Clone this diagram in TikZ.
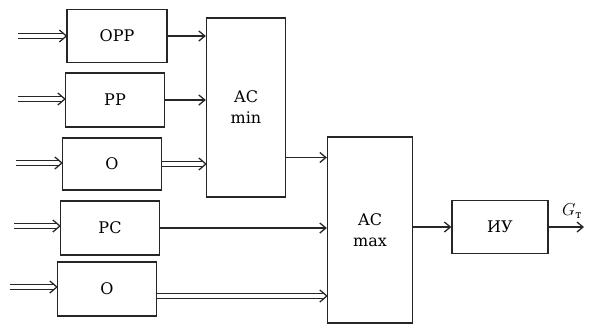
\documentclass[tikz,border=0pt]{standalone}
\usepackage{fontspec}
\setmainfont{DejaVu Serif}
\usetikzlibrary{arrows.meta}
\newcommand{\dblarrow}[2]{%
  \draw[ln] ([yshift=2.2pt]#1) -- ([xshift=-3pt,yshift=2.2pt]#2);
  \draw[ln] ([yshift=-2.2pt]#1) -- ([xshift=-3pt,yshift=-2.2pt]#2);
  \draw[ln, line join=miter] ([xshift=-7pt,yshift=6pt]#2) -- (#2) -- ([xshift=-7pt,yshift=-6pt]#2);}
\begin{document}
\begin{tikzpicture}[x=1pt,y=-1pt,
  ln/.style={draw=black!85, line width=1.3pt},
  box/.style={ln, rectangle, inner sep=0pt, font=\fontsize{16}{21}\selectfont, align=center},
  sarr/.style={ln, -{Straight Barb[length=6pt,width=10pt]}}]
\useasboundingbox (0,0) rectangle (597,325);
\node[box, minimum width=100, minimum height=53] (opp) at (117,36) {ОРР};
\node[box, minimum width=99, minimum height=54] (pp) at (115,100) {РР};
\node[box, minimum width=99, minimum height=52] (o1) at (112,164) {О};
\node[box, minimum width=99, minimum height=54] (pc) at (110,228) {РС};
\node[box, minimum width=99, minimum height=54] (o2) at (107,289) {О};
\node[box, minimum width=79, minimum height=179] (acmin) at (246,107.5) {АС\\min};
\node[box, minimum width=85, minimum height=186] (acmax) at (370,230) {АС\\max};
\node[box, minimum width=96, minimum height=53] (iu) at (500,227) {ИУ};
\coordinate (in1) at (18,36);
\coordinate (in2) at (18,99);
\coordinate (in3) at (16,163);
\coordinate (in4) at (14,226);
\coordinate (in5) at (10,287);
\coordinate (e1) at (opp.west |- in1);
\coordinate (e2) at (pp.west |- in2);
\coordinate (e3) at (o1.west |- in3);
\coordinate (e4) at (pc.west |- in4);
\coordinate (e5) at (o2.west |- in5);
\coordinate (minout) at ([yshift=-50pt]acmin.east);
\coordinate (o2out) at ([yshift=-7pt]o2.east);
\coordinate (o2in) at (acmax.west |- o2out);
\coordinate (o1in) at (acmin.west |- o1.east);
\dblarrow{in1}{e1}
\dblarrow{in2}{e2}
\dblarrow{in3}{e3}
\dblarrow{in4}{e4}
\dblarrow{in5}{e5}
\draw[sarr] (opp.east) -- (acmin.west |- opp.east);
\draw[sarr] (pp.east) -- (acmin.west |- pp.east);
\dblarrow{o1.east}{o1in}
\draw[sarr] (minout) -- (acmax.west |- minout);
\draw[sarr] (pc.east) -- (acmax.west |- pc.east);
\dblarrow{o2out}{o2in}
\draw[sarr] (acmax.east |- iu.west) -- (iu.west);
\coordinate (out) at (584,227);
\draw[sarr] (iu.east) -- (out);
\node[font=\fontsize{16}{18}\selectfont] (gt) at (572,211) {$G_{\mbox{\fontsize{11}{11}\selectfont т}}$};
\end{tikzpicture}
\end{document}
